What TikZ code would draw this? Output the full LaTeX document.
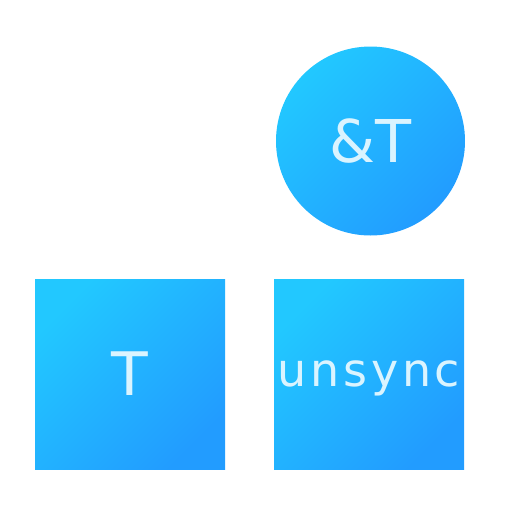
\documentclass[tikz,border=0pt]{standalone}
\usepackage{fontspec}
\setmainfont{DejaVu Sans}
\newfontfamily\spacedfont[LetterSpace=8]{DejaVu Sans}
\usepackage{tikz}
\usetikzlibrary{positioning,shapes.geometric}
\definecolor{tilelight}{RGB}{34,200,255}
\definecolor{tiledark}{RGB}{34,156,255}
\definecolor{tiletext}{RGB}{218,244,255}

\begin{document}
\begin{tikzpicture}[x=1pt,y=-1pt,
  tile/.style={shading=axis,top color=tilelight,bottom color=tiledark,
    shading angle=45,text=tiletext,text depth=0pt,inner sep=0pt},
  squaretile/.style={tile,rectangle,minimum size=190pt},
  roundtile/.style={tile,circle,minimum size=189pt}]
\useasboundingbox (0,0) rectangle (512,512);
\node[roundtile,font=\fontsize{59}{59}\selectfont] (amp) at (370.5,141) {\&T};
\node[squaretile,font=\fontsize{60}{60}\selectfont] (t) at (130,374) {T};
\node[squaretile,font=\fontsize{46}{46}\spacedfont] (unsync) at (369,374) {unsync};
\end{tikzpicture}
\end{document}
